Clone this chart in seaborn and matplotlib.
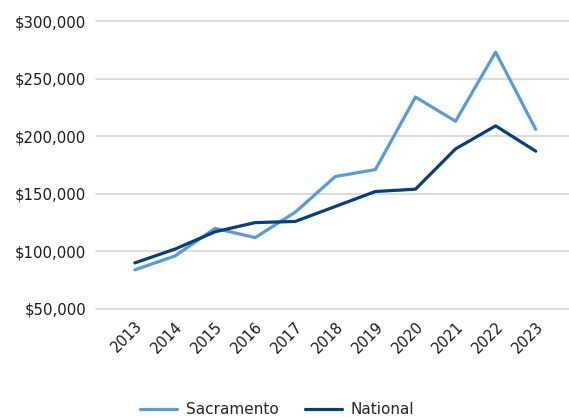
import matplotlib
matplotlib.use("Agg")
import matplotlib.pyplot as plt
import matplotlib.ticker as mticker
from matplotlib.lines import Line2D
import seaborn as sns
import pandas as pd

years = ["2013", "2014", "2015", "2016", "2017", "2018", "2019", "2020", "2021", "2022", "2023"]
sacramento = [84000, 96000, 120000, 112000, 134000, 165000, 171000, 234000, 213000, 273000, 206000]
national = [90000, 102000, 117000, 125000, 126000, 139000, 152000, 154000, 189000, 209000, 187000]

series_names = ["Sacramento", "National"]
series_colors = ["#5B9BD5", "#034078"]

df = pd.DataFrame({
    "Value": sacramento + national,
    "Series": [series_names[0]] * len(years) + [series_names[1]] * len(years),
})
df["x"] = list(range(len(years))) * 2

sns.set_theme(style="white")
plt.rcParams["font.family"] = ["DejaVu Sans"]

fig = plt.figure(figsize=(5.69, 4.17), dpi=100)
ax = fig.add_axes([0.1687, 0.259, 0.8313, 0.6906])

sns.lineplot(data=df, x="x", y="Value", hue="Series", palette=series_colors,
             hue_order=series_names, linewidth=2.3, ax=ax, legend=False)

ax.set_xlim(-0.97, 10.83)
ax.set_ylim(50000, 300000)
ax.set_yticks(range(50000, 300001, 50000))
ax.yaxis.set_major_formatter(mticker.FuncFormatter(lambda v, p: f"${v:,.0f}"))
ax.set_xticks(range(len(years)))
ax.set_xticklabels(years, rotation=45, ha="right", rotation_mode="anchor")
ax.tick_params(axis="x", length=0, pad=7, labelsize=10.5, colors="#1a1a1a")
ax.tick_params(axis="y", length=0, pad=7, labelsize=10.7, colors="#1a1a1a")
ax.grid(axis="y", color="#D9D9D9", linewidth=1.3)
ax.set_axisbelow(True)
for gl in ax.get_ygridlines():
    gl.set_clip_on(False)
for s in ax.spines.values():
    s.set_visible(False)
ax.set_xlabel("")
ax.set_ylabel("")

handles = [Line2D([0], [0], color=c, linewidth=2.3) for c in series_colors]
fig.legend(handles, series_names, loc="center", bbox_to_anchor=(0.487, 0.017),
           ncol=2, frameon=False, fontsize=11, handlelength=2.4,
           columnspacing=1.75, handletextpad=0.55, borderpad=0)

fig.savefig("out.png", dpi=100, facecolor="white")
